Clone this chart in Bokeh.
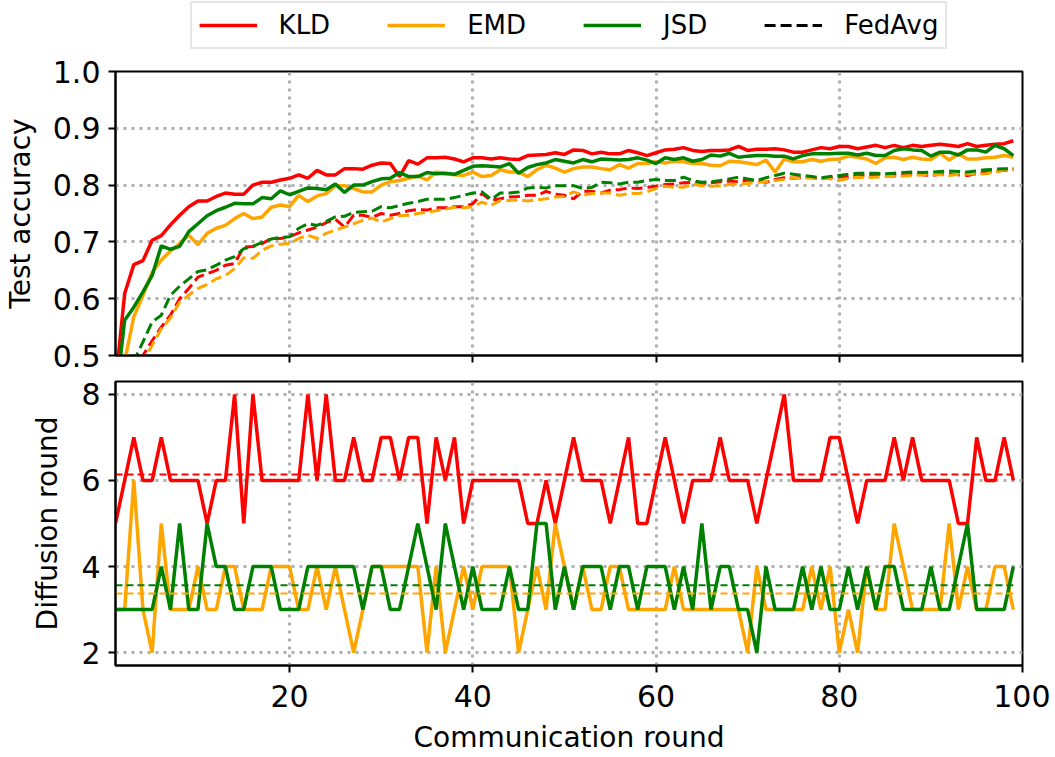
import numpy as np
from bokeh.plotting import figure
from bokeh.layouts import column
from bokeh.models import Range1d, FixedTicker, Legend, LegendItem, PrintfTickFormatter
from bokeh.embed import file_html
from bokeh.resources import INLINE

rounds = list(range(1, 100))

acc_kld = [0.45, 0.609, 0.66, 0.667, 0.703, 0.711, 0.73, 0.747, 0.762, 0.772,
           0.772, 0.78, 0.786, 0.784, 0.784, 0.80, 0.805, 0.805, 0.809, 0.812,
           0.818, 0.812, 0.826, 0.818, 0.818, 0.829, 0.829, 0.828, 0.835, 0.839,
           0.838, 0.815, 0.843, 0.837, 0.848, 0.848, 0.849, 0.846, 0.841, 0.848,
           0.848, 0.846, 0.848, 0.846, 0.845, 0.852, 0.853, 0.854, 0.857, 0.854,
           0.862, 0.861, 0.855, 0.858, 0.855, 0.855, 0.861, 0.857, 0.852, 0.857,
           0.862, 0.863, 0.866, 0.861, 0.859, 0.861, 0.861, 0.862, 0.868, 0.861,
           0.863, 0.863, 0.864, 0.862, 0.858, 0.858, 0.862, 0.866, 0.864, 0.868,
           0.868, 0.864, 0.867, 0.87, 0.866, 0.87, 0.866, 0.87, 0.868, 0.87,
           0.872, 0.87, 0.868, 0.873, 0.868, 0.87, 0.872, 0.873, 0.878]

acc_emd = [0.40, 0.49, 0.568, 0.606, 0.646, 0.668, 0.684, 0.697, 0.712, 0.695,
           0.715, 0.724, 0.729, 0.741, 0.75, 0.741, 0.744, 0.761, 0.765, 0.762,
           0.782, 0.771, 0.781, 0.785, 0.799, 0.799, 0.794, 0.788, 0.788, 0.80,
           0.806, 0.808, 0.812, 0.816, 0.809, 0.823, 0.82, 0.818, 0.817, 0.823,
           0.815, 0.817, 0.827, 0.823, 0.823, 0.815, 0.827, 0.835, 0.83, 0.823,
           0.829, 0.832, 0.832, 0.829, 0.827, 0.836, 0.83, 0.838, 0.838, 0.841,
           0.839, 0.842, 0.841, 0.838, 0.838, 0.835, 0.834, 0.842, 0.841, 0.839,
           0.836, 0.844, 0.823, 0.846, 0.841, 0.841, 0.845, 0.842, 0.845, 0.846,
           0.851, 0.849, 0.846, 0.838, 0.848, 0.849, 0.845, 0.849, 0.846, 0.845,
           0.856, 0.844, 0.855, 0.846, 0.846, 0.848, 0.849, 0.852, 0.849]

acc_jsd = [0.42, 0.562, 0.585, 0.612, 0.641, 0.693, 0.687, 0.692, 0.718, 0.732,
           0.746, 0.755, 0.761, 0.768, 0.767, 0.767, 0.778, 0.776, 0.79, 0.783,
           0.789, 0.795, 0.794, 0.792, 0.802, 0.787, 0.80, 0.80, 0.806, 0.811,
           0.812, 0.822, 0.815, 0.815, 0.822, 0.82, 0.821, 0.819, 0.826, 0.833,
           0.834, 0.833, 0.832, 0.838, 0.821, 0.831, 0.836, 0.839, 0.845, 0.842,
           0.839, 0.845, 0.841, 0.846, 0.845, 0.844, 0.845, 0.848, 0.844, 0.838,
           0.848, 0.845, 0.848, 0.842, 0.845, 0.853, 0.851, 0.856, 0.849, 0.851,
           0.852, 0.852, 0.851, 0.851, 0.846, 0.852, 0.855, 0.855, 0.855, 0.856,
           0.856, 0.853, 0.856, 0.852, 0.852, 0.861, 0.864, 0.862, 0.861, 0.851,
           0.858, 0.858, 0.853, 0.862, 0.862, 0.858, 0.87, 0.864, 0.852]

fedavg_kld = [0.33, 0.40, 0.46, 0.50, 0.526, 0.55, 0.571, 0.60, 0.618, 0.638,
              0.644, 0.65, 0.659, 0.662, 0.691, 0.692, 0.697, 0.706, 0.706, 0.709,
              0.716, 0.721, 0.726, 0.734, 0.74, 0.726, 0.747, 0.747, 0.743, 0.75,
              0.747, 0.75, 0.755, 0.757, 0.756, 0.76, 0.76, 0.762, 0.762, 0.767,
              0.785, 0.773, 0.776, 0.779, 0.78, 0.782, 0.782, 0.789, 0.784, 0.782,
              0.776, 0.789, 0.789, 0.786, 0.791, 0.792, 0.795, 0.794, 0.796, 0.798,
              0.801, 0.802, 0.804, 0.805, 0.802, 0.804, 0.806, 0.807, 0.806, 0.809,
              0.807, 0.805, 0.81, 0.813, 0.812, 0.814, 0.813, 0.811, 0.813, 0.815,
              0.814, 0.817, 0.816, 0.819, 0.818, 0.817, 0.818, 0.819, 0.818, 0.817,
              0.819, 0.82, 0.818, 0.817, 0.82, 0.823, 0.824, 0.826, 0.827]

fedavg_emd = [0.32, 0.38, 0.44, 0.49, 0.518, 0.547, 0.566, 0.594, 0.606, 0.618,
              0.625, 0.635, 0.641, 0.653, 0.672, 0.671, 0.685, 0.693, 0.696, 0.697,
              0.706, 0.712, 0.706, 0.715, 0.721, 0.726, 0.732, 0.738, 0.742, 0.735,
              0.741, 0.746, 0.747, 0.75, 0.752, 0.755, 0.758, 0.761, 0.76, 0.762,
              0.77, 0.764, 0.773, 0.773, 0.774, 0.772, 0.774, 0.776, 0.779, 0.78,
              0.788, 0.782, 0.785, 0.786, 0.786, 0.782, 0.785, 0.785, 0.788, 0.794,
              0.798, 0.796, 0.796, 0.802, 0.799, 0.798, 0.799, 0.801, 0.802, 0.803,
              0.805, 0.806, 0.808, 0.81, 0.813, 0.812, 0.813, 0.812, 0.811, 0.808,
              0.812, 0.814, 0.813, 0.814, 0.815, 0.815, 0.816, 0.817, 0.818, 0.819,
              0.818, 0.817, 0.819, 0.82, 0.819, 0.82, 0.823, 0.827, 0.829]

fedavg_jsd = [0.35, 0.42, 0.49, 0.524, 0.559, 0.571, 0.606, 0.622, 0.635, 0.648,
              0.651, 0.659, 0.668, 0.674, 0.688, 0.692, 0.699, 0.705, 0.708, 0.709,
              0.724, 0.732, 0.729, 0.736, 0.744, 0.745, 0.752, 0.753, 0.754, 0.762,
              0.76, 0.764, 0.768, 0.771, 0.775, 0.775, 0.775, 0.778, 0.782, 0.786,
              0.788, 0.775, 0.786, 0.786, 0.788, 0.795, 0.796, 0.795, 0.799, 0.799,
              0.799, 0.794, 0.796, 0.805, 0.804, 0.802, 0.805, 0.805, 0.808, 0.81,
              0.808, 0.808, 0.814, 0.808, 0.805, 0.806, 0.808, 0.811, 0.814, 0.811,
              0.808, 0.813, 0.817, 0.821, 0.819, 0.817, 0.815, 0.813, 0.815, 0.817,
              0.819, 0.821, 0.821, 0.821, 0.82, 0.821, 0.822, 0.823, 0.822, 0.823,
              0.824, 0.825, 0.824, 0.823, 0.825, 0.827, 0.828, 0.829, 0.829]

diff_kld = [5, 6, 7, 6, 6, 7, 6, 6, 6, 6,
            5, 6, 6, 8, 5, 8, 6, 6, 6, 6,
            6, 8, 6, 8, 6, 6, 7, 6, 6, 7,
            7, 6, 7, 7, 5, 7, 6, 7, 5, 6,
            6, 6, 6, 6, 6, 5, 5, 6, 5, 6,
            7, 6, 6, 6, 5, 6, 7, 5, 5, 6,
            7, 6, 5, 6, 6, 6, 7, 6, 6, 6,
            5, 6, 7, 8, 6, 6, 6, 6, 7, 7,
            6, 5, 6, 6, 6, 7, 6, 7, 6, 6,
            6, 6, 5, 5, 7, 6, 6, 7, 6]

diff_emd = [3, 3, 6, 3, 2, 5, 3, 3, 3, 4,
            3, 3, 4, 4, 3, 3, 3, 4, 4, 4,
            3, 3, 4, 3, 4, 3, 2, 3, 4, 4,
            4, 4, 4, 4, 2, 4, 2, 3, 4, 3,
            4, 4, 4, 4, 2, 3, 4, 3, 5, 4,
            3, 4, 3, 3, 4, 4, 3, 3, 3, 3,
            3, 4, 3, 3, 3, 3, 3, 3, 3, 2,
            4, 3, 3, 3, 3, 3, 4, 3, 4, 2,
            3, 2, 4, 3, 3, 5, 4, 3, 3, 3,
            3, 5, 3, 4, 3, 3, 4, 4, 3]

diff_jsd = [3, 3, 3, 3, 3, 4, 3, 5, 3, 3,
            5, 4, 4, 3, 3, 4, 4, 4, 3, 3,
            3, 4, 4, 4, 4, 4, 4, 3, 4, 4,
            3, 3, 4, 5, 4, 3, 5, 4, 3, 4,
            3, 3, 3, 4, 3, 3, 5, 5, 3, 4,
            3, 4, 4, 4, 3, 4, 4, 3, 4, 4,
            4, 3, 4, 3, 5, 3, 4, 4, 3, 3,
            2, 4, 3, 3, 3, 4, 3, 4, 3, 3,
            4, 3, 4, 3, 4, 4, 3, 3, 3, 4,
            3, 3, 4, 5, 3, 3, 3, 3, 4]

x_ticks = [20, 40, 60, 80, 100]
acc_ticks = [0.5, 0.6, 0.7, 0.8, 0.9, 1.0]
diff_ticks = [2, 4, 6, 8]
method_labels = ["KLD", "EMD", "JSD"]
baseline_label = "FedAvg"
method_colors = ["red", "orange", "green"]

FONT = "DejaVu Sans"
GRID_COLOR = "#b0b0b0"
W = 1050
BL, BR = 112, 28   # left / right borders -> frame width 910
DASH = "11 5"


def style(p):
    p.outline_line_color = "black"
    p.outline_line_width = 2
    p.background_fill_color = "white"
    p.border_fill_color = "white"
    for ax in p.axis:
        ax.axis_line_width = 2
        ax.axis_line_color = "black"
        ax.major_tick_out = 7
        ax.major_tick_in = 0
        ax.major_tick_line_width = 2
        ax.minor_tick_out = 0
        ax.minor_tick_in = 0
        ax.major_label_text_font = FONT
        ax.major_label_text_font_size = "30px"
        ax.major_label_text_color = "black"
        ax.axis_label_text_font = FONT
        ax.axis_label_text_font_size = "28px"
        ax.axis_label_text_font_style = "normal"
        ax.axis_label_text_color = "black"
    for g in p.grid:
        g.grid_line_color = GRID_COLOR
        g.grid_line_dash = "3 5"
        g.grid_line_width = 3


x_range = Range1d(1, 100)

# ---------------- legend strip ----------------
# ranges chosen so that the proxy series below lie fully outside the view:
# only their legend samples are shown.
pl = figure(width=W, height=50, x_range=Range1d(-10, -5), y_range=Range1d(-10, -5),
            x_axis_type=None, y_axis_type=None,
            output_backend="svg", toolbar_location=None,
            min_border_left=BL, min_border_right=BR,
            min_border_top=0, min_border_bottom=0)
pl.outline_line_color = None
pl.grid.visible = False
proxies = [pl.line(rounds, vals, color=c, line_width=3.5)
           for vals, c in zip([acc_kld, acc_emd, acc_jsd], method_colors)]
proxies.append(pl.line(rounds, fedavg_kld, color="black", line_width=3, line_dash=DASH))
items = [LegendItem(label=l, renderers=[r])
         for l, r in zip(method_labels + [baseline_label], proxies)]
legend = Legend(items=items, orientation="horizontal", location="center",
                label_text_font=FONT, label_text_font_size="26px",
                label_text_color="black",
                glyph_width=58, glyph_height=24, label_height=24,
                label_standoff=22, spacing=57, padding=7, margin=0,
                border_line_color="#cccccc", border_line_width=2,
                background_fill_color="white", background_fill_alpha=1.0)
pl.add_layout(legend)

# ---------------- top panel ----------------
p1 = figure(width=W, height=325, x_range=x_range, y_range=Range1d(0.5, 1.0),
            output_backend="svg", toolbar_location=None,
            min_border_left=BL, min_border_right=BR,
            min_border_top=21, min_border_bottom=20)
p1.xaxis.ticker = FixedTicker(ticks=x_ticks)
p1.yaxis.ticker = FixedTicker(ticks=acc_ticks)
p1.yaxis.formatter = PrintfTickFormatter(format="%.1f")
p1.yaxis.axis_label = "Test accuracy"
style(p1)
p1.xaxis.major_label_text_font_size = "1px"
p1.xaxis.major_label_text_color = None
p1.xaxis.major_label_standoff = 0
p1.yaxis.major_label_standoff = 8
p1.yaxis.axis_label_standoff = 13

for vals, c in zip([fedavg_kld, fedavg_emd, fedavg_jsd], method_colors):
    p1.line(rounds, vals, color=c, line_width=3, line_dash=DASH)
for vals, c in zip([acc_kld, acc_emd, acc_jsd], method_colors):
    p1.line(rounds, vals, color=c, line_width=3.5)

# ---------------- bottom panel ----------------
p2 = figure(width=W, height=382, x_range=x_range, y_range=Range1d(1.7, 8.3),
            output_backend="svg", toolbar_location=None,
            min_border_left=BL, min_border_right=BR,
            min_border_top=6, min_border_bottom=92)
p2.xaxis.ticker = FixedTicker(ticks=x_ticks)
p2.yaxis.ticker = FixedTicker(ticks=diff_ticks)
p2.yaxis.formatter = PrintfTickFormatter(format="%d")
p2.xaxis.axis_label = "Communication round"
p2.yaxis.axis_label = "Diffusion round"
style(p2)
p2.xaxis.major_label_standoff = 12
p2.xaxis.axis_label_standoff = 11
p2.yaxis.major_label_standoff = 8
p2.yaxis.axis_label_standoff = 14

for vals, c in zip([diff_kld, diff_emd, diff_jsd], method_colors):
    p2.line(rounds, vals, color=c, line_width=3.5)
for vals, c in zip([diff_kld, diff_emd, diff_jsd], method_colors):
    m = float(np.mean(vals))
    p2.line([rounds[0], rounds[-1]], [m, m], color=c, line_width=2, line_dash="7 4")

layout = column(pl, p1, p2, spacing=0)
open("out.html", "w").write(file_html(layout, INLINE))
